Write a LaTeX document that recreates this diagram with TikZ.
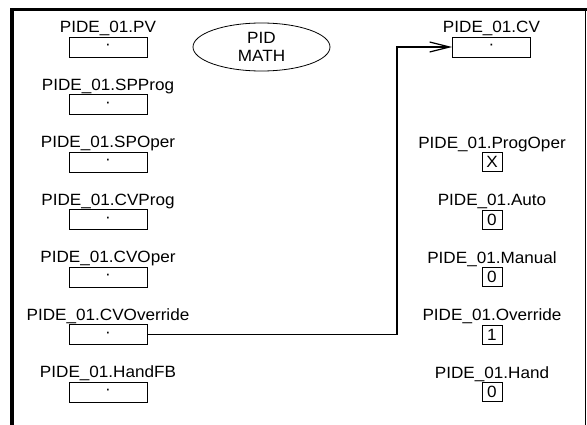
\documentclass[tikz,border=0pt]{standalone}
\usepackage{fontspec}
\setmainfont[FakeStretch=1.05]{Liberation Sans}
\usetikzlibrary{positioning}
\usetikzlibrary{arrows.meta}
\usetikzlibrary{shapes.geometric}
\tikzset{
 tag/.style={font=\fontsize{16.3}{18}\selectfont, inner sep=0},
 tagbox/.style={draw, line width=.8pt, minimum width=78pt, minimum height=20pt, inner sep=0, font=\fontsize{16.3}{18}\selectfont},
 bitbox/.style={draw, line width=.8pt, minimum width=20pt, minimum height=19pt, inner sep=0, font=\fontsize{16.3}{18}\selectfont},
 wire/.style={line width=1.2pt, -{Straight Barb[length=20pt,width=10pt]}},
}
\begin{document}
\begin{tikzpicture}[x=1pt,y=-1pt]
\useasboundingbox (0,0) rectangle (587,425);
% frame
\draw[line width=3pt] (10,10)--(587,10);
\draw[line width=4pt] (12,8.5)--(12,425);
\draw[line width=1.5pt] (585.5,10)--(585.5,425);
% inputs
\foreach \nm/\txt [count=\i from 0] in {pv/PV,spprog/SPProg,spoper/SPOper,cvprog/CVProg,cvoper/CVOper,cvovr/CVOverride,handfb/HandFB} {
 \node[tagbox] (\nm) at (108,47+57.5*\i) {·};
 \node[tag, above=4pt of \nm, anchor=base] (\nm-tag) {PIDE\_01.\txt};
}
\node[draw, ellipse, line width=.8pt, minimum width=137pt, minimum height=48pt, inner sep=0, align=center, font=\fontsize{16.3}{18}\selectfont] (pid) at (261.5,47) {PID\\MATH};
% outputs
\node[tagbox] (cv) at (491.5,47) {·};
\node[tag, above=4pt of cv, anchor=base] (cv-tag) {PIDE\_01.CV};
\foreach \nm/\txt/\val [count=\i from 2] in {progoper/ProgOper/X,auto/Auto/0,manual/Manual/0,ovr/Override/1,hand/Hand/0} {
 \node[bitbox] (\nm) at (492,47+57.5*\i) {\val};
 \node[tag, above=4pt of \nm, anchor=base] (\nm-tag) {PIDE\_01.\txt};
}
\coordinate (jog) at (397,0);
\draw[wire] (cvovr.east)--(cvovr.east -| jog) |- (cv.west);
\end{tikzpicture}
\end{document}
